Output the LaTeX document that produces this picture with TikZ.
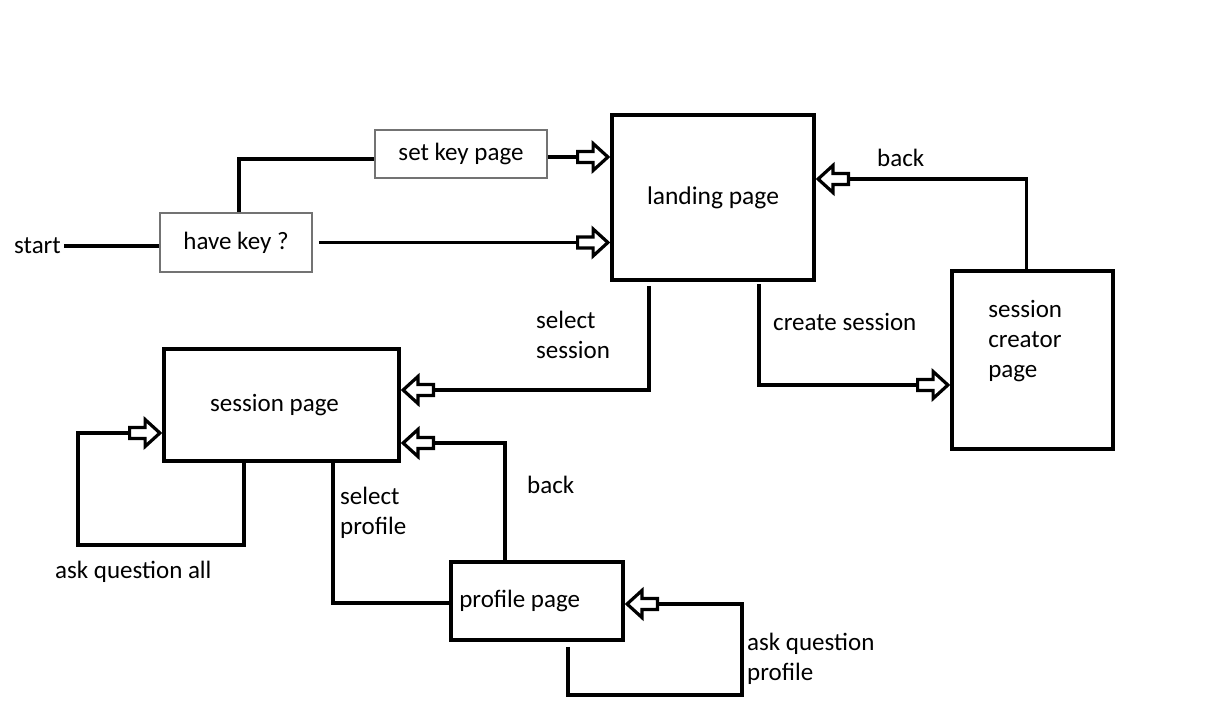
\documentclass[tikz,border=0pt]{standalone}
\usepackage{fontspec}
\setmainfont{Carlito}
\usetikzlibrary{arrows.meta}
\pgfdeclarearrow{
  name=HollowBlock,
  setup code={
    \pgfarrowssettipend{0pt}
    \pgfarrowssetlineend{-31pt}
    \pgfarrowssetbackend{-34pt}
    \pgfarrowssetvisualbackend{-31pt}
    \pgfarrowshullpoint{0pt}{0pt}
    \pgfarrowshullpoint{-17pt}{15pt}
    \pgfarrowshullpoint{-17pt}{-15pt}
    \pgfarrowshullpoint{-34pt}{7pt}
    \pgfarrowshullpoint{-34pt}{-7pt}
  },
  drawing code={
    \pgfsetdash{}{0pt}
    \pgfsetmiterjoin
    \pgfsetlinewidth{3.2pt}
    \pgfpathmoveto{\pgfqpoint{-2.2pt}{0pt}}
    \pgfpathlineto{\pgfqpoint{-17pt}{13.5pt}}
    \pgfpathlineto{\pgfqpoint{-17pt}{5.5pt}}
    \pgfpathlineto{\pgfqpoint{-32.5pt}{5.5pt}}
    \pgfpathlineto{\pgfqpoint{-32.5pt}{-5.5pt}}
    \pgfpathlineto{\pgfqpoint{-17pt}{-5.5pt}}
    \pgfpathlineto{\pgfqpoint{-17pt}{-13.5pt}}
    \pgfpathclose
    \pgfsetfillcolor{white}
    \pgfusepathqfillstroke
  }
}
\tikzset{
  txt/.style={font=\fontsize{25}{30}\selectfont, inner sep=0pt},
  thinbox/.style={draw=black!55, line width=1.8pt, fill=white, txt},
  thickbox/.style={draw=black, line width=3.8pt, fill=white, txt},
  conn/.style={draw=black, line width=3.8pt},
  flow/.style={conn, -HollowBlock},
}
\begin{document}
\begin{tikzpicture}[x=1pt,y=-1pt]
\useasboundingbox (0,0) rectangle (1205,707);
% boxes
\node[thinbox, minimum width=152pt, minimum height=59pt] (havekey) at (236,242.5) {have key ?};
\node[thinbox, minimum width=172pt, minimum height=48pt] (setkey) at (461,154) {set key page};
\node[thickbox, minimum width=202pt, minimum height=165pt, font=\fontsize{25.5}{30}\selectfont] (landing) at (713,197.5) {landing page};
\node[thickbox, minimum width=161pt, minimum height=178pt,
  label={[txt, align=left, anchor=west, xshift=38pt, yshift=19pt]west:session\\creator\\page}] (creator) at (1032.5,360) {};
\node[thickbox, minimum width=235pt, minimum height=112pt,
  label={[txt, anchor=center, xshift=-7pt]center:session page}] (session) at (281.5,405) {};
\node[thickbox, minimum width=172pt, minimum height=78pt,
  label={[txt, anchor=west, xshift=10pt]west:profile page}] (profile) at (537,601) {};
% start
\node[txt, anchor=west] (start) at (14,246) {start};
% connectors
\draw[conn, shorten <=3pt] (start.east) -- (start.east -| havekey.west);
\draw[conn] ([xshift=3pt]havekey.north) |- ([yshift=-5pt]setkey.west);
\draw[flow] ([yshift=-3pt]setkey.east) -- ([yshift=-3pt]setkey.east -| landing.west);
\draw[flow, shorten <=6pt] (havekey.east) -- (havekey.east -| landing.west);
\draw[flow] ([xshift=-6pt]creator.north) |- ([yshift=18.5pt]landing.east);
\draw[flow, shorten <=2pt] ([xshift=46pt]landing.south) |- ([yshift=-25pt]creator.west);
\draw[flow, shorten <=4pt] ([xshift=-64pt]landing.south) |- ([yshift=15pt]session.east);
\draw[flow] ([xshift=-37.5pt]session.south) -- ++(0,82) -| ([xshift=-84pt,yshift=-28pt]session.west) -- ([yshift=-28pt]session.west);
\draw[conn] ([xshift=51.5pt]session.south) |- ([yshift=-2pt]profile.west);
\draw[flow] ([xshift=-32pt]profile.north) |- ([yshift=-38pt]session.east);
\draw[flow, shorten <=5pt] ([xshift=31pt]profile.south) -- ++(0,53) -| ([xshift=117pt,yshift=-3pt]profile.east) -- ([yshift=-3pt]profile.east);
% labels
\node[txt, anchor=west] (lbback1) at (877,158) {back};
\node[txt, anchor=west, align=left] (lbselsess) at (536,335) {select\\session};
\node[txt, anchor=west] (lbcreate) at (773,322) {create session};
\node[txt, anchor=west, align=left] (lbselprof) at (340,513) {select\\profile};
\node[txt, anchor=west] (lbback2) at (527,485) {back};
\node[txt, anchor=west] (lbaskall) at (55,572) {ask question all};
\node[txt, anchor=west, align=left] (lbaskprof) at (747,659) {ask question\\profile};
\end{tikzpicture}
\end{document}
